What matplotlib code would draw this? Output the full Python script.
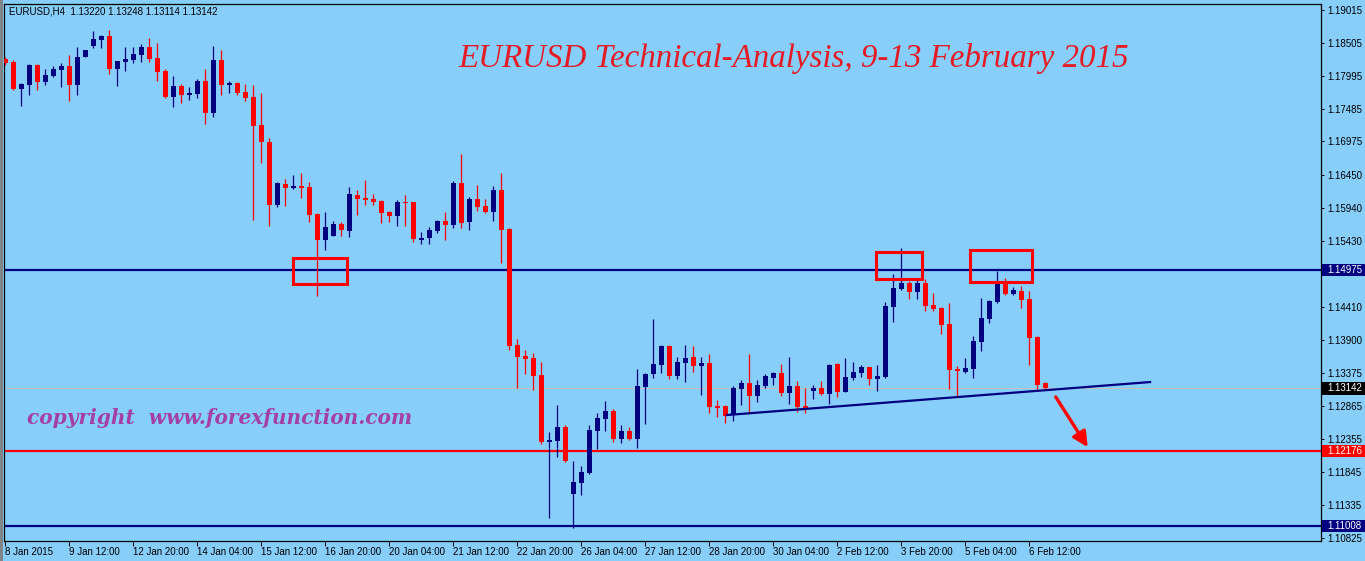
import numpy as np
import matplotlib
matplotlib.use("Agg")
import matplotlib.pyplot as plt
from matplotlib.patches import Rectangle, FancyArrowPatch

# --- EURUSD H4 candles (8 Jan - 6 Feb 2015) ---
opens = [1.1825, 1.1821, 1.1779, 1.1785, 1.1816, 1.1790, 1.1799, 1.1808, 1.1815, 1.1785,
         1.1829, 1.1846, 1.1855, 1.1861, 1.1810, 1.1821, 1.1824, 1.1832, 1.1844, 1.1827,
         1.1807, 1.1767, 1.1784, 1.1770, 1.1771, 1.1791, 1.1742, 1.1824, 1.1785, 1.1788,
         1.1774, 1.1767, 1.1723, 1.1697, 1.1599, 1.1631, 1.1625, 1.1628, 1.1627, 1.1585,
         1.1544, 1.1551, 1.1569, 1.1558, 1.1614, 1.1610, 1.1608, 1.1605, 1.1588, 1.1582,
         1.1604, 1.1603, 1.1544, 1.1548, 1.1558, 1.1574, 1.1568, 1.1633, 1.1572, 1.1608,
         1.1597, 1.1588, 1.1622, 1.1562, 1.1382, 1.1364, 1.1361, 1.1335, 1.1231, 1.1233,
         1.1254, 1.1150, 1.1167, 1.1183, 1.1248, 1.1267, 1.1279, 1.1236, 1.1248, 1.1236,
         1.1316, 1.1337, 1.1350, 1.1380, 1.1333, 1.1354, 1.1363, 1.1349, 1.1354, 1.1287,
         1.1287, 1.1274, 1.1313, 1.1323, 1.1302, 1.1318, 1.1330, 1.1338, 1.1307, 1.1318,
         1.1287, 1.1310, 1.1315, 1.1305, 1.1352, 1.1309, 1.1330, 1.1338, 1.1347, 1.1329,
         1.1332, 1.1440, 1.1468, 1.1478, 1.1464, 1.1478, 1.1444, 1.1439, 1.1414, 1.1345,
         1.1340, 1.1344, 1.1386, 1.1422, 1.1448, 1.1476, 1.1461, 1.1465, 1.1453, 1.1394,
         1.13220]
highs = [1.1829, 1.1824, 1.1788, 1.1818, 1.1817, 1.1810, 1.1815, 1.1819, 1.1832, 1.1844,
         1.1840, 1.1869, 1.1862, 1.1870, 1.1823, 1.1844, 1.1844, 1.1849, 1.1858, 1.1850,
         1.1810, 1.1799, 1.1787, 1.1782, 1.1794, 1.1810, 1.1846, 1.1839, 1.1791, 1.1790,
         1.1787, 1.1785, 1.1773, 1.1703, 1.1635, 1.1639, 1.1645, 1.1648, 1.1635, 1.1586,
         1.1588, 1.1574, 1.1572, 1.1627, 1.1622, 1.1638, 1.1616, 1.1607, 1.1589, 1.1607,
         1.1614, 1.1604, 1.1557, 1.1565, 1.1576, 1.1588, 1.1636, 1.1678, 1.1611, 1.1630,
         1.1608, 1.1628, 1.1648, 1.1563, 1.1391, 1.1374, 1.1369, 1.1355, 1.1246, 1.1288,
         1.1257, 1.1201, 1.1194, 1.1257, 1.1276, 1.1295, 1.1282, 1.1257, 1.1254, 1.1344,
         1.1338, 1.1422, 1.1382, 1.1382, 1.1363, 1.1382, 1.1380, 1.1363, 1.1368, 1.1296,
         1.1288, 1.1318, 1.1327, 1.1368, 1.1327, 1.1337, 1.1339, 1.1352, 1.1363, 1.1326,
         1.1315, 1.1319, 1.1326, 1.1352, 1.1354, 1.1361, 1.1355, 1.1350, 1.1348, 1.1350,
         1.1448, 1.1492, 1.1532, 1.1481, 1.1484, 1.1484, 1.1462, 1.1440, 1.1447, 1.1349,
         1.1361, 1.1395, 1.1454, 1.1451, 1.1496, 1.1486, 1.1472, 1.1473, 1.1465, 1.1395,
         1.13248]
lows = [1.1816, 1.1777, 1.1753, 1.1770, 1.1777, 1.1785, 1.1797, 1.1782, 1.1760, 1.1770,
        1.1828, 1.1842, 1.1842, 1.1802, 1.1784, 1.1807, 1.1819, 1.1821, 1.1821, 1.1791,
        1.1765, 1.1751, 1.1757, 1.1762, 1.1765, 1.1725, 1.1735, 1.1770, 1.1773, 1.1770,
        1.1760, 1.1576, 1.1664, 1.1566, 1.1596, 1.1597, 1.1624, 1.1610, 1.1572, 1.1458,
        1.1529, 1.1550, 1.1551, 1.1549, 1.1583, 1.1599, 1.1599, 1.1571, 1.1572, 1.1566,
        1.1566, 1.1541, 1.1538, 1.1538, 1.1556, 1.1544, 1.1563, 1.1563, 1.1560, 1.1590,
        1.1586, 1.1574, 1.1509, 1.1374, 1.1315, 1.1337, 1.1312, 1.1228, 1.1113, 1.1208,
        1.1200, 1.1097, 1.1149, 1.1182, 1.1220, 1.1248, 1.1231, 1.1229, 1.1234, 1.1222,
        1.1259, 1.1330, 1.1338, 1.1329, 1.1329, 1.1324, 1.1340, 1.1304, 1.1276, 1.1270,
        1.1260, 1.1264, 1.1288, 1.1276, 1.1293, 1.1315, 1.1319, 1.1302, 1.1290, 1.1278,
        1.1276, 1.1298, 1.1304, 1.1290, 1.1301, 1.1308, 1.1327, 1.1332, 1.1319, 1.1310,
        1.1330, 1.1417, 1.1467, 1.1453, 1.1453, 1.1434, 1.1434, 1.1399, 1.1313, 1.1301,
        1.1338, 1.1330, 1.1372, 1.1416, 1.1447, 1.1459, 1.1459, 1.1439, 1.1350, 1.1313,
        1.13114]
closes = [1.1819, 1.1779, 1.1787, 1.1816, 1.1790, 1.1801, 1.1810, 1.1815, 1.1785, 1.1829,
          1.1839, 1.1857, 1.1861, 1.1810, 1.1822, 1.1825, 1.1833, 1.1844, 1.1825, 1.1805,
          1.1767, 1.1784, 1.1770, 1.1773, 1.1791, 1.1742, 1.1824, 1.1785, 1.1788, 1.1773,
          1.1765, 1.1721, 1.1697, 1.1599, 1.1633, 1.1625, 1.1628, 1.1625, 1.1583, 1.1544,
          1.1565, 1.1569, 1.1560, 1.1616, 1.1608, 1.1607, 1.1603, 1.1586, 1.1582, 1.1603,
          1.1602, 1.1546, 1.1548, 1.1560, 1.1574, 1.1568, 1.1633, 1.1571, 1.1608, 1.1596,
          1.1588, 1.1622, 1.1560, 1.1380, 1.1363, 1.1360, 1.1333, 1.1231, 1.1234, 1.1254,
          1.1202, 1.1169, 1.1184, 1.1250, 1.1268, 1.1279, 1.1236, 1.1248, 1.1236, 1.1318,
          1.1337, 1.1352, 1.1380, 1.1333, 1.1355, 1.1361, 1.1349, 1.1354, 1.1285, 1.1284,
          1.1271, 1.1315, 1.1323, 1.1302, 1.1319, 1.1333, 1.1338, 1.1307, 1.1318, 1.1285,
          1.1284, 1.1315, 1.1305, 1.1350, 1.1309, 1.1332, 1.1340, 1.1347, 1.1329, 1.1333,
          1.1442, 1.1470, 1.1478, 1.1464, 1.1478, 1.1442, 1.1437, 1.1413, 1.1343, 1.1341,
          1.1346, 1.1388, 1.1423, 1.1450, 1.1476, 1.1461, 1.1467, 1.1451, 1.1392, 1.1319,
          1.13142]

date_labels = ["8 Jan 2015", "9 Jan 12:00", "12 Jan 20:00", "14 Jan 04:00", "15 Jan 12:00",
               "16 Jan 20:00", "20 Jan 04:00", "21 Jan 12:00", "22 Jan 20:00", "26 Jan 04:00",
               "27 Jan 12:00", "28 Jan 20:00", "30 Jan 04:00", "2 Feb 12:00", "3 Feb 20:00",
               "5 Feb 04:00", "6 Feb 12:00"]
price_ticks = [1.19015, 1.18505, 1.17995, 1.17485, 1.16975, 1.16450, 1.15940, 1.15430,
               1.14920, 1.14410, 1.13900, 1.13375, 1.12865, 1.12355, 1.11845, 1.11335, 1.10825]

# niveles horizontales y su color
level_values = [1.14975, 1.12176, 1.11008]
level_colors = ["#000080", "#ff0000", "#000080"]
bid_price = 1.13142

# cajas rojas (barra inicio, barra fin, precio bajo, precio alto)
boxes = [(35.9, 42.7, 1.14758, 1.15170),
         (108.8, 114.6, 1.14835, 1.15254),
         (120.55, 128.3, 1.14789, 1.15285)]
trend_x = [90.2, 143.1]
trend_y = [1.12729, 1.13241]
arrow_x = [131.3, 135.3]
arrow_y = [1.13010, 1.12230]

BG = "#87cefa"
NAVY = "#000080"
RED = "#ff0000"

fig = plt.figure(figsize=(13.65, 5.61), dpi=100, facecolor=BG)
ax = fig.add_axes([4.3 / 1365, 20 / 561, (1321 - 4.3) / 1365, (541 - 4) / 561])
ax.set_facecolor(BG)

o = np.array(opens)
h = np.array(highs)
l = np.array(lows)
c = np.array(closes)
x = np.arange(len(o))
cols = np.where(c >= o, NAVY, RED)

# velas
ax.vlines(x, l, h, colors=cols, linewidth=0.9, zorder=3)
body_bot = np.minimum(o, c)
body_h = np.maximum(np.abs(c - o), 0.00016)
ax.bar(x, body_h, bottom=body_bot, width=0.62, color=cols, linewidth=0, zorder=4)

# lineas horizontales
for val, col in zip(level_values, level_colors):
    ax.axhline(val, color=col, linewidth=1.6, zorder=2)
ax.axhline(bid_price, color="#c0c0c0", linewidth=0.8, zorder=1)

# linea de tendencia
ax.plot(trend_x, trend_y, color=NAVY, linewidth=1.6, zorder=5)

# rectangulos
for x0, x1, y0, y1 in boxes:
    ax.add_patch(Rectangle((x0, y0), x1 - x0, y1 - y0, fill=False,
                           edgecolor=RED, linewidth=2.2, zorder=6))

# flecha
ax.add_patch(FancyArrowPatch((arrow_x[0], arrow_y[0]), (arrow_x[1], arrow_y[1]),
                             arrowstyle="-|>,head_length=9,head_width=4.5",
                             shrinkA=0, shrinkB=0,
                             color=RED, linewidth=2.4, zorder=6))

ax.set_xlim(-0.125, 164.46)
ax.set_ylim(1.10774, 1.19108)

# ejes
ax.set_xticks(range(0, 8 * len(date_labels), 8))
ax.set_xticklabels(date_labels, fontsize=7, family="Liberation Sans")
for lbl in ax.get_xticklabels():
    lbl.set_horizontalalignment("left")
ax.tick_params(axis="x", direction="out", length=3.5, width=0.7, pad=0.5)

ax.yaxis.tick_right()
ax.set_yticks(price_ticks)
# la etiqueta 1.14920 queda tapada por la caja de 1.14975
ax.set_yticklabels(["" if abs(p - 1.14920) < 1e-6 else f"{p:.5f}" for p in price_ticks],
                   fontsize=7, family="Liberation Sans")
ax.tick_params(axis="y", direction="out", length=2.5, width=0.7, pad=2)
for sp in ax.spines.values():
    sp.set_color("black")
    sp.set_linewidth(0.9)

# etiquetas de precio a la derecha
yx = ax.get_yaxis_transform()
label_vals = [1.14975, bid_price, 1.12176, 1.11008]
label_bg = [NAVY, "black", RED, NAVY]
for val, bg in zip(label_vals, label_bg):
    ax.add_patch(Rectangle((1.0008, val - 0.00095), 0.04, 0.0019, transform=yx,
                           facecolor=bg, edgecolor="none", clip_on=False, zorder=10))
    ax.text(1.0045, val, f"{val:.5f}", transform=yx, color="white", fontsize=7,
            family="Liberation Sans", va="center", ha="left", zorder=11, clip_on=False)

# textos
ax.text(0.0035, 0.995, "EURUSD,H4  1.13220 1.13248 1.13114 1.13142", transform=ax.transAxes,
        fontsize=7, family="Liberation Sans", va="top", ha="left", color="black")
fig.text(794 / 1365, 1 - 58 / 561, "EURUSD Technical-Analysis, 9-13 February 2015",
         fontsize=23.8, family="Liberation Serif", style="italic", color="#e41b23",
         ha="center", va="center")
fig.text(220 / 1365, 1 - 418 / 561, "copyright  www.forexfunction.com",
         fontsize=14.5, family="DejaVu Serif", style="italic", weight="bold",
         color="#a43fa8", ha="center", va="center")

# borde gris de la ventana
fig.add_artist(plt.Line2D([1 / 1365, 1 / 1365], [0, 1], color="#808080", linewidth=2))

fig.savefig("out.png", dpi=100, facecolor=BG)
